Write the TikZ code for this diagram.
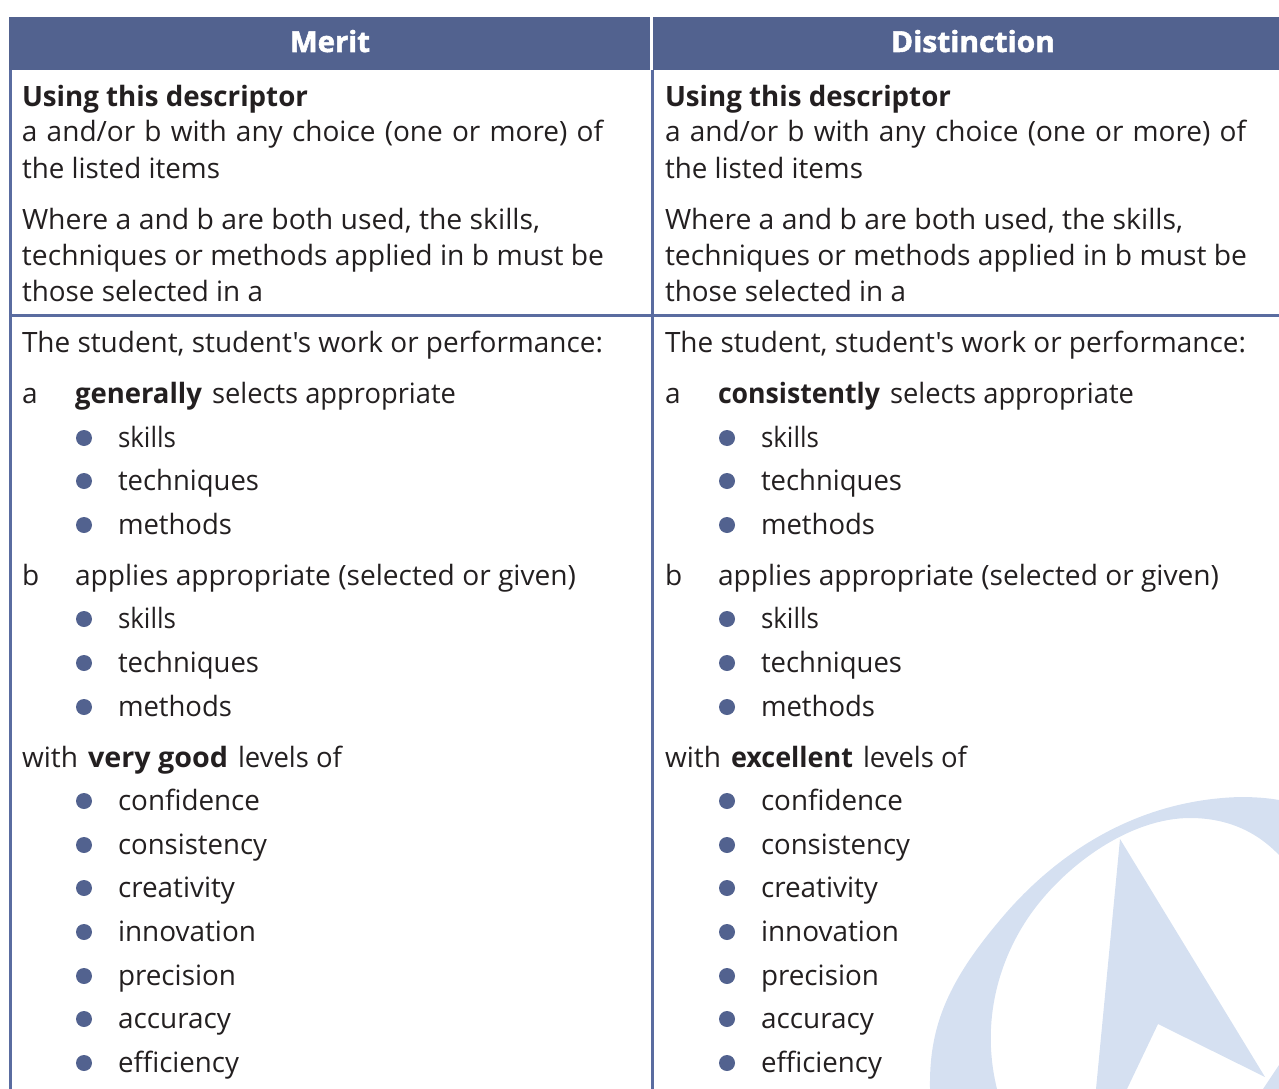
\documentclass[tikz,border=0pt]{standalone}
\usepackage{graphicx}
\usepackage{fontspec}
\setmainfont{Open Sans}[Ligatures=TeXOff]
\definecolor{hdr}{HTML}{52628F}
\definecolor{rule}{HTML}{5A6CA0}
\definecolor{ink}{HTML}{231F20}
\definecolor{logo}{HTML}{D5E0F1}
\newcommand{\fitw}[2]{\resizebox{#1pt}{\height}{#2}}
\newcommand{\wide}[1]{{\spaceskip=9.2pt\relax #1}}
\tikzset{
  x=1pt,y=-1pt,
  txt/.style={anchor=base west,inner sep=0pt,outer sep=0pt,text=ink,font=\fontsize{28}{34}\selectfont},
  head/.style={anchor=base,inner sep=0pt,text=white,font=\fontsize{29}{34}\selectfont\bfseries\addfontfeature{FakeBold=1.8}},
  dot/.style={circle,fill=hdr,minimum size=16pt,inner sep=0pt,outer sep=0pt},
  grid/.style={draw=rule,line width=3pt}
}
\newcommand{\colbody}[6]{%
  % #1 prefix, #2 x offset, #3 word a, #4 its width, #5 word levels, #6 its width
  \begin{scope}[xshift=#2pt]
    \node[txt] (#1d1) at (22,107) {\fitw{286}{\textbf{Using this descriptor}}};
    \node[txt] (#1d2) at (22,142) {\fitw{581}{\wide{a and/or b with any choice (one or more) of}}};
    \node[txt] (#1d3) at (22,178) {\fitw{198}{the listed items}};
    \node[txt] (#1w1) at (22,229) {\fitw{518}{Where a and b are both used, the skills,}};
    \node[txt] (#1w2) at (22,265) {\fitw{582}{techniques or methods applied in b must be}};
    \node[txt] (#1w3) at (22,301) {\fitw{241}{those selected in a}};
    \node[txt] (#1s) at (22,352) {\fitw{581}{The student, student's work or performance:}};
    \node[txt] (#1a) at (22,403) {a};
    \node[txt] (#1at) at (75,403) {\fitw{#4}{\textbf{#3}}\hspace{10pt}\fitw{244}{selects appropriate}};
    \node[txt] (#1b) at (22,585) {b};
    \node[txt] (#1bt) at (75,585) {\fitw{501}{applies appropriate (selected or given)}};
    \node[txt] (#1l) at (22,767) {\fitw{56}{with}\hspace{10pt}\fitw{#6}{\textbf{#5}}\hspace{10pt}\fitw{104}{levels of}};
    \foreach \n/\yy/\t/\ww in {i1/447/skills/58,i2/490/techniques/141,i3/534/methods/114,
      j1/628/skills/58,j2/672/techniques/141,j3/716/methods/114,
      k1/810/confidence/142,k2/854/consistency/149,k3/897/creativity/117,k4/941/innovation/138,
      k5/985/precision/118,k6/1028/accuracy/113,k7/1072/efficiency/121}{
      \node[dot] (#1\n b) at (84,\yy-9) {};
      \node[txt] (#1\n) at (118,\yy) {\fitw{\ww}{\t}};
    }
  \end{scope}}
\begin{document}
\begin{tikzpicture}
\useasboundingbox (0,0) rectangle (1279,1089);
\begin{scope}
\clip (0,0) rectangle (1279,1089);
% logo
\fill[logo] (930,1089) .. controls (929,1030) and (945,985) .. (1000,920)
  .. controls (1050,860) and (1130,800) .. (1240,797)
  .. controls (1255,797) and (1268,798) .. (1279,800)
  -- (1279,855) .. controls (1255,830) and (1225,818) .. (1190,818)
  .. controls (1130,818) and (1065,865) .. (1030,915)
  .. controls (1000,958) and (980,1020) .. (997,1089) -- cycle;
\fill[logo] (1120,839) -- (1265,1077) -- (1158,1024) -- (1127,1089) -- (1096,1089) -- cycle;
\fill[logo] (1263,1089) -- (1279,1065) -- (1279,1089) -- cycle;
\end{scope}
% table
\fill[hdr] (9,17) rectangle (1279,70);
\draw[white,line width=2.4pt] (651.5,17) -- (651.5,70);
\draw[grid] (10,70) -- (10,1089);
\draw[grid] (652,70) -- (652,1089);
\draw[grid] (10,315.5) -- (1279,315.5);
\node[head] (hm) at (330,52) {\fitw{80}{Merit}};
\node[head] (hd) at (973,52) {\fitw{164}{Distinction}};
\colbody{m}{0}{generally}{127}{very good}{140}
\colbody{n}{643}{consistently}{162}{excellent}{122}
\end{tikzpicture}
\end{document}
